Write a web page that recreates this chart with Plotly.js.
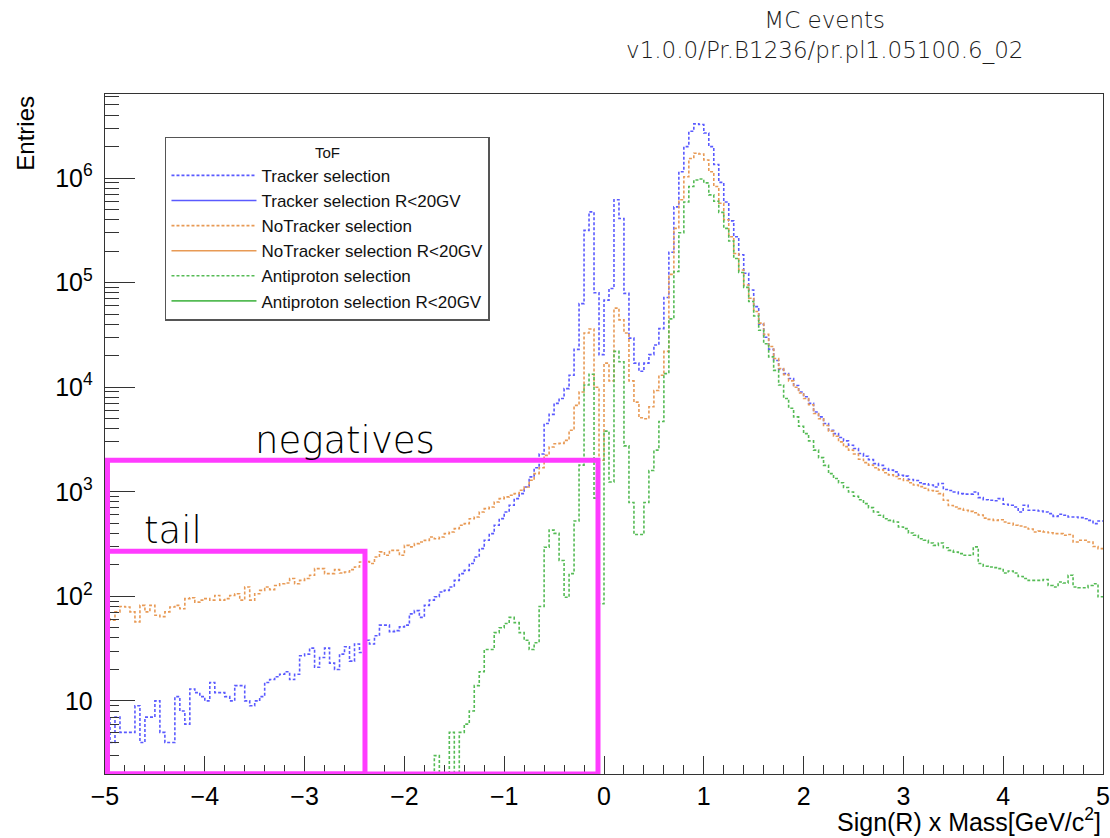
<!DOCTYPE html>
<html><head><meta charset="utf-8">
<script src="https://cdn.plot.ly/plotly-3.0.1.min.js"></script>
<style>html,body{margin:0;padding:0;background:#fff}#chart{width:1110px;height:838px}</style>
</head><body><div id="chart"></div>
<script>
// Histogram binning: 200 bins from -5 to 5
const xMin = -5, xMax = 5, nBins = 200;

// Entries per bin
const trackerSel = [
 7,4,7,5,5,5,9,4,7,7, 10,5,4,4,11,8,6,13,12,11,
 10,15,12,12,11,10,14,14,10,9, 10,11,15,16,17,18,19,16,18,27,
 28,32,21,26,32,23,20,28,33,24, 35,29,38,35,42,53,53,46,47,51,
 53,68,73,63,82,92,99,110,114,123, 142,165,177,206,238,286,344,398,479,554,
 641,743,860,961,1112,1387,1700,2300,4500,5500, 7000,7800,9700,13000,23000,63000,316000,475000,80000,20500,
 68000,88000,620000,410000,79000,29500,17000,14200,17000,20500, 25300,36300,72000,195000,530000,1150000,2000000,2800000,3300000,3250000,
 2700000,2000000,1350000,910000,590000,390000,275000,185000,123000,85000, 59000,40000,30000,23000,18000,14800,13500,12100,10400,9000,
 8100,7000,5800,5200,4500,3870,3600,3300,3070,2790, 2590,2320,2190,2030,1860,1790,1670,1610,1550,1440,
 1410,1310,1280,1220,1190,1160,1110,1200,1050,1030, 995,960,950,950,995,880,840,830,820,860,
 760,743,716,641,743,665,665,655,641,618, 582,610,596,574,574,566,553,533,496,526
];
const noTrackerSel = [
 62,59,71,80,79,71,57,82,71,82, 66,64,71,79,82,76,95,97,88,92,
 95,92,102,92,95,102,106,92,123,92, 106,114,123,116,127,132,134,148,132,142,
 148,159,184,184,165,165,180,167,171,180, 191,213,215,206,238,266,247,275,275,247,
 307,297,319,331,343,370,356,370,398,413, 444,478,496,553,574,641,690,716,799,860,
 893,926,961,1035,1112,1288,1492,1700,2230,2680, 2880,2900,3100,3870,6700,9000,33000,36000,10000,2000,
 17000,11500,57000,44000,33000,11500,7200,5100,5000,6500, 9300,13000,22000,120000,330000,620000,1030000,1540000,1730000,1700000,
 1490000,1150000,830000,575000,400000,275000,190000,132000,95000,71000, 53000,41000,32000,24500,18800,15100,13200,11500,10000,8800,
 7800,6800,5600,5000,4300,3800,3400,3000,2700,2500, 2300,2050,1900,1800,1700,1620,1520,1450,1400,1330,
 1280,1220,1160,1120,1080,1030,1010,960,830,740, 716,690,665,650,630,600,560,545,533,540,
 514,500,478,470,461,440,413,420,413,405, 398,398,384,390,331,344,344,331,300,286
];
const antiprotonSel = [
 0,0,0,0,0,0,0,0,0,0, 0,0,0,0,0,0,0,0,0,0,
 0,0,0,0,0,0,0,0,0,0, 0,0,0,0,0,0,0,0,0,0,
 0,0,0,0,0,0,0,0,0,0, 0,0,0,0,0,0,0,0,0,0,
 0,0,0,0,0,0,3,0,0,5, 0,5,6,8,14,19,31,31,45,50,
 55,63,56,45,38,31,36,80,295,430, 400,220,98,165,525,1800,10500,13300,870,85,
 3800,1240,22000,17500,2750,790,390,390,790,1600, 2500,4700,13500,45000,128000,300000,590000,830000,960000,980000,
 900000,690000,600000,470000,330000,250000,170000,125000,90000,66000, 48000,35000,26000,19500,14500,10500,7800,6300,5200,4230,
 3600,3070,2500,2120,1790,1490,1340,1220,1100,995, 905,840,770,705,641,596,553,533,514,461,
 444,404,384,356,344,324,307,324,292,275, 265,256,247,247,297,206,194,191,188,184,
 167,175,167,155,148,142,142,142,145,127, 123,137,134,159,123,121,121,127,132,99
];
// R<20GV variants: nothing of them is visible in the reference (legend entries only)
const trackerSelR20 = [];
const noTrackerSelR20 = [];
const antiprotonSelR20 = [];

const seriesNames = ['Tracker selection','Tracker selection R<20GV','NoTracker selection',
  'NoTracker selection R<20GV','Antiproton selection','Antiproton selection R<20GV'];
const yTickVals = [10, 100, 1000, 10000, 100000, 1000000];
const yTickText = ['10','10<sup>2</sup>','10<sup>3</sup>','10<sup>4</sup>','10<sup>5</sup>','10<sup>6</sup>'];
const yMinorVals = [];
for (let e = 0; e <= 6; e++) for (let m = 2; m <= 9; m++) yMinorVals.push(m * Math.pow(10, e));

const binWidth = (xMax - xMin) / nBins;
const edges = Array.from({length: nBins + 1}, (_, i) => xMin + i * binWidth);
// empty bins are drawn below the axis floor (like ROOT does on log scale)
function stepY(vals) {
  const v = vals.map(c => c > 0 ? c : 0.5);
  return v.concat([v[v.length - 1]]);
}
const BLUE = '#5a5aff', ORANGE = '#e89a55', GREEN = '#55bb55';
function hist(name, vals, color, dash) {
  const has = vals.length > 0;
  return {type: 'scatter', mode: 'lines', name: name,
    x: has ? edges : [null], y: has ? stepY(vals) : [null],
    line: {shape: 'hv', color: color, width: 1.6, dash: dash}, hoverinfo: 'skip'};
}
const DOT = '3px,2px';
const data = [
  hist(seriesNames[0], trackerSel, BLUE, DOT),
  hist(seriesNames[1], trackerSelR20, BLUE, 'solid'),
  hist(seriesNames[2], noTrackerSel, ORANGE, DOT),
  hist(seriesNames[3], noTrackerSelR20, ORANGE, 'solid'),
  hist(seriesNames[4], antiprotonSel, GREEN, DOT),
  hist(seriesNames[5], antiprotonSelR20, GREEN, 'solid')
];

const AX = '#333';
const SANS = 'Liberation Sans, Arial, sans-serif';
const WIDE = 'DejaVu Sans, Verdana, sans-serif';
const MAG = '#ff3cff';
const layout = {
  width: 1110, height: 838,
  margin: {l: 105, r: 7, t: 94, b: 64},
  paper_bgcolor: '#fff', plot_bgcolor: '#fff',
  showlegend: true,
  title: {text: 'MC events<br>v1.0.0/Pr.B1236/pr.pl1.05100.6_02', x: 0.743, xanchor: 'center',
    xref: 'container', yref: 'container', y: 0.967, yanchor: 'top',
    font: {family: WIDE, size: 23, weight: 300, color: '#1a1a1a'}},
  xaxis: {range: [xMin, xMax], tick0: -5, dtick: 1, ticks: 'inside', ticklen: 18, tickwidth: 1, tickcolor: AX,
    minor: {tick0: -5, dtick: 0.2, ticks: 'inside', ticklen: 9, tickwidth: 1, tickcolor: AX, showgrid: false},
    showline: true, mirror: true, linecolor: AX, linewidth: 1.3, showgrid: false, zeroline: false,
    tickfont: {family: SANS, size: 25, color: '#000'}, ticklabelstandoff: 0, ticklabeloverflow: 'allow'},
  yaxis: {type: 'log', range: [Math.log10(2), 6.804], tickmode: 'array', tickvals: yTickVals, ticktext: yTickText,
    ticks: 'inside', ticklen: 30, tickwidth: 1, tickcolor: AX,
    minor: {tickmode: 'array', tickvals: yMinorVals, ticks: 'inside', ticklen: 14, tickwidth: 1, tickcolor: AX, showgrid: false},
    showline: true, mirror: true, linecolor: AX, linewidth: 1.3, showgrid: false, zeroline: false,
    tickfont: {family: SANS, size: 25, color: '#000'}, ticklabelstandoff: 6},
  legend: {x: 0.0601, y: 0.937, xanchor: 'left', yanchor: 'top', bgcolor: '#fff', bordercolor: '#555', borderwidth: 1.5,
    font: {family: SANS, size: 17, color: '#111'},
    title: {text: 'ToF', side: 'top center', font: {family: SANS, size: 15, color: '#111'}},
    itemwidth: 85, tracegroupgap: 0, traceorder: 'normal'},
  shapes: [
    {type: 'rect', xref: 'x', yref: 'y', x0: -4.975, x1: -0.06, y0: 2, y1: 2000, line: {color: MAG, width: 5}},
    {type: 'rect', xref: 'x', yref: 'y', x0: -4.975, x1: -2.395, y0: 2, y1: 270, line: {color: MAG, width: 5}}
  ],
  annotations: [
    {xref: 'paper', yref: 'paper', x: 1, y: -0.0935, xanchor: 'right', yanchor: 'bottom', showarrow: false,
      text: 'Sign(R) x Mass[GeV/c<sup>2</sup>]', font: {family: SANS, size: 25, color: '#000'}},
    {xref: 'paper', yref: 'paper', x: -0.08, y: 1.0, xanchor: 'center', yanchor: 'top', textangle: -90, showarrow: false,
      text: 'Entries', font: {family: SANS, size: 24, color: '#000'}},
    {xref: 'x', yref: 'y', x: -2.6, y: 3.49, xanchor: 'center', yanchor: 'middle', showarrow: false,
      text: 'negatives', font: {family: WIDE, size: 37, weight: 300, color: '#000'}},
    {xref: 'x', yref: 'y', x: -4.32, y: 2.63, xanchor: 'center', yanchor: 'middle', showarrow: false,
      text: 'tail', font: {family: WIDE, size: 37, weight: 300, color: '#000'}}
  ]
};
Plotly.newPlot('chart', data, layout, {displayModeBar: false, staticPlot: true});
</script></body></html>
